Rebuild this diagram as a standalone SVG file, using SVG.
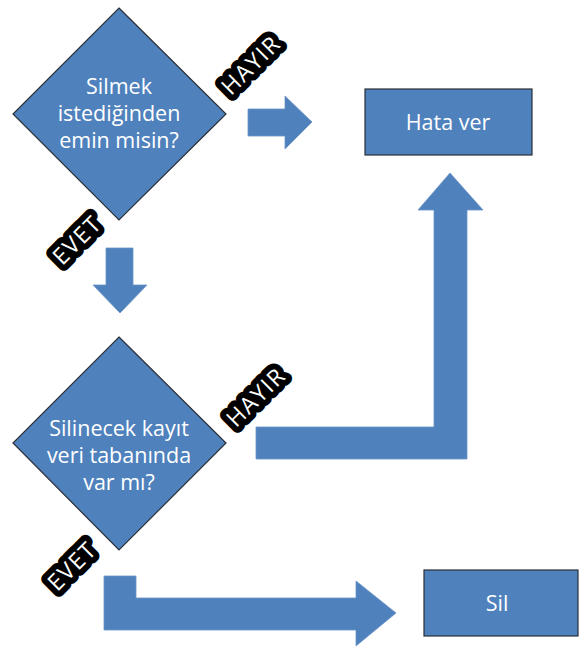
<svg xmlns="http://www.w3.org/2000/svg" width="579" height="646" viewBox="0 0 579 646">
  <style>
    .shape { fill: #4f81bd; stroke: #2b2f36; stroke-width: 1.2; }
    .arrow { fill: #4f81bd; stroke: #6a94c8; stroke-width: 0.8; }
    .txt { font-family: "Open Sans", "Noto Sans", sans-serif; font-size: 21.5px; fill: #ffffff; text-anchor: middle; }
    .tag { font-family: "Open Sans", "Noto Sans", sans-serif; font-size: 23px; fill: #ffffff; text-anchor: middle;
           stroke: #000000; stroke-width: 12; stroke-linejoin: round; paint-order: stroke; letter-spacing: 1.5px; }
  </style>
  <rect width="579" height="646" fill="#ffffff"/>

  <!-- connectors -->
  <g id="connectors">
    <polygon class="arrow" points="248,109 285,109 285,96 312,122 285,149 285,136 248,136"/>
    <polygon class="arrow" points="106,248 133,248 133,285 147,285 120,313 93,285 106,285"/>
    <polygon class="arrow" points="256,427 434,427 434,210 418,210 450,173 483,210 467,210 467,459 256,459"/>
    <polygon class="arrow" points="104,576 136,576 136,598 356,598 356,581 396,613 356,646 356,630 104,630"/>
    <text class="tag" transform="translate(251,65) rotate(-45)" y="8">HAYIR</text>
    <text class="tag" transform="translate(77,240) rotate(-45)" y="8">EVET</text>
    <text class="tag" transform="translate(256,397) rotate(-45)" y="8">HAYIR</text>
    <text class="tag" transform="translate(72,566) rotate(-45)" y="8">EVET</text>
  </g>

  <g id="q1">
    <polygon class="shape" points="119,8 226,114 119,220 13,114"/>
    <text class="txt" x="119" y="94">Silmek</text>
    <text class="txt" x="119" y="121">istediğinden</text>
    <text class="txt" x="119" y="148">emin misin?</text>
  </g>

  <g id="q2">
    <polygon class="shape" points="119,337 226,443 119,550 13,443"/>
    <text class="txt" x="119" y="436">Silinecek kayıt</text>
    <text class="txt" x="119" y="463">veri tabanında</text>
    <text class="txt" x="119" y="490">var mı?</text>
  </g>

  <g id="error">
    <rect class="shape" x="365" y="89" width="167" height="66"/>
    <text class="txt" x="448" y="130">Hata ver</text>
  </g>

  <g id="delete">
    <rect class="shape" x="424" y="570" width="154" height="66"/>
    <text class="txt" x="497" y="611">Sil</text>
  </g>
</svg>
